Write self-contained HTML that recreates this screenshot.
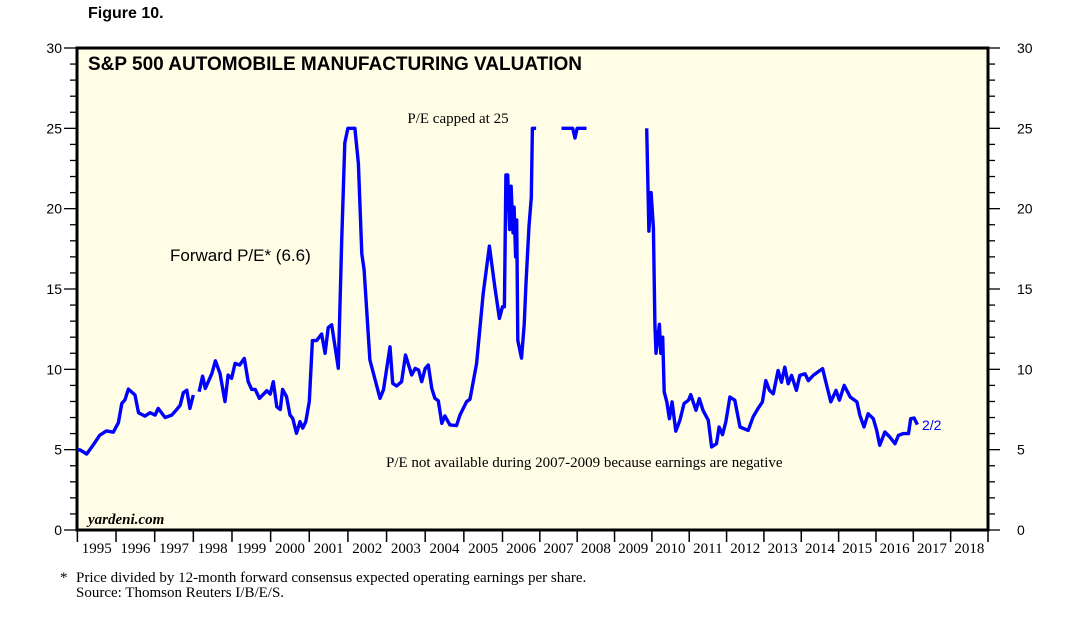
<!DOCTYPE html>
<html><head><meta charset="utf-8">
<style>
body{margin:0;background:#fff;}
svg{display:block;}
.serif{font-family:"Liberation Serif",serif;}
.sans{font-family:"Liberation Sans",sans-serif;}
</style></head>
<body>
<svg id="chart" width="1067" height="622" viewBox="0 0 1067 622" xmlns="http://www.w3.org/2000/svg">
<text x="88" y="18" class="sans" font-size="16" font-weight="bold">Figure 10.</text>
<rect x="77" y="48" width="911" height="482" fill="#fffde6" stroke="#000" stroke-width="3"/>
<g id="axes"></g>
<g id="series"></g>
<text x="88" y="70" class="sans" font-size="19" font-weight="bold">S&amp;P 500 AUTOMOBILE MANUFACTURING VALUATION</text>
<text x="458" y="123" class="serif" font-size="15" text-anchor="middle">P/E capped at 25</text>
<text x="170" y="261" class="sans" font-size="17">Forward P/E* (6.6)</text>
<text x="386" y="467" class="serif" font-size="15">P/E not available during 2007-2009 because earnings are negative</text>
<text x="88" y="524" class="serif" font-size="15" font-style="italic" font-weight="bold">yardeni.com</text>
<text x="922" y="430" class="sans" font-size="14" fill="#0000ff">2/2</text>
<text x="60" y="582" class="serif" font-size="15">*</text>
<text x="76" y="582" class="serif" font-size="15">Price divided by 12-month forward consensus expected operating earnings per share.</text>
<text x="76" y="597" class="serif" font-size="15">Source: Thomson Reuters I/B/E/S.</text>
</svg>
<script>
const yearLabels = ["1995","1996","1997","1998","1999","2000","2001","2002","2003","2004","2005","2006","2007","2008","2009","2010","2011","2012","2013","2014","2015","2016","2017","2018"];
const yTicks = [0,5,10,15,20,25,30];
const seg1T = [1995.0,1995.07,1995.24,1995.41,1995.58,1995.75,1995.93,1996.06,1996.15,1996.23,1996.32,1996.49,1996.58,1996.75,1996.88,1997.01,1997.09,1997.27,1997.44,1997.57,1997.66,1997.74,1997.83,1997.91,1998.0];
const seg1V = [5.0,4.98,4.73,5.29,5.9,6.17,6.09,6.68,7.88,8.09,8.77,8.4,7.3,7.09,7.3,7.15,7.57,7.0,7.15,7.5,7.77,8.54,8.7,7.57,8.4];
const seg2T = [1998.15,1998.24,1998.31,1998.48,1998.57,1998.69,1998.82,1998.9,1998.99,1999.08,1999.2,1999.32,1999.42,1999.51,1999.6,1999.71,1999.9,1999.99,2000.07,2000.16,2000.25,2000.31,2000.41,2000.5,2000.57,2000.67,2000.76,2000.83,2000.91,2001.0,2001.08,2001.19,2001.32,2001.41,2001.49,2001.58,2001.75,2001.84,2001.92,2002.0,2002.18,2002.27,2002.36,2002.42,2002.57,2002.83,2002.92,2003.09,2003.16,2003.26,2003.39,2003.49,2003.65,2003.74,2003.83,2003.91,2004.0,2004.08,2004.17,2004.25,2004.34,2004.43,2004.51,2004.64,2004.81,2004.9,2005.07,2005.16,2005.33,2005.5,2005.66,2005.8,2005.92,2006.0,2006.05,2006.09,2006.14,2006.19,2006.23,2006.28,2006.31,2006.35,2006.38,2006.41,2006.51,2006.58,2006.63,2006.71,2006.77,2006.8,2006.9];
const seg2V = [8.6,9.58,8.81,9.75,10.53,9.75,7.99,9.64,9.44,10.37,10.27,10.68,9.23,8.75,8.75,8.19,8.67,8.46,9.23,7.67,7.5,8.75,8.3,7.16,6.95,6.02,6.75,6.34,6.75,8.0,11.79,11.79,12.2,11.0,12.6,12.77,10.07,18.0,24.1,25,25,22.8,17.2,16.2,10.58,8.2,8.73,11.4,9.13,8.96,9.23,10.89,9.65,10.06,9.96,9.23,10.06,10.27,8.81,8.2,8.04,6.64,7.1,6.54,6.5,7.16,7.99,8.14,10.37,14.72,17.67,15.14,13.17,13.9,13.9,22.1,22.1,18.7,21.4,18.5,20.1,17.0,19.3,11.8,10.7,12.77,15.36,18.9,20.7,25,25];
const seg3T = [2007.58,2007.88,2007.94,2008.0,2008.25];
const seg3V = [25,25,24.4,25,25];
const seg4T = [2009.86,2009.92,2009.98,2010.04,2010.08,2010.11,2010.2,2010.24,2010.29,2010.33,2010.4,2010.47,2010.54,2010.64,2010.75,2010.86,2010.98,2011.04,2011.18,2011.27,2011.37,2011.51,2011.6,2011.73,2011.8,2011.89,2011.98,2012.09,2012.22,2012.36,2012.58,2012.71,2012.84,2012.96,2013.05,2013.15,2013.25,2013.38,2013.47,2013.56,2013.65,2013.74,2013.87,2013.96,2014.1,2014.19,2014.32,2014.5,2014.57,2014.66,2014.79,2014.93,2015.02,2015.15,2015.31,2015.49,2015.57,2015.68,2015.79,2015.93,2016.02,2016.1,2016.24,2016.37,2016.51,2016.6,2016.73,2016.87,2016.93,2017.02,2017.11];
const seg4V = [25,18.6,21.0,18.8,12.8,11.0,12.8,11.0,12.0,8.6,7.97,6.93,7.97,6.15,6.83,7.87,8.08,8.43,7.45,8.18,7.45,6.83,5.17,5.37,6.41,5.93,6.72,8.28,8.08,6.41,6.2,7.04,7.55,7.97,9.3,8.69,8.48,9.93,9.2,10.14,9.1,9.62,8.69,9.62,9.72,9.3,9.62,9.93,10.04,9.2,7.97,8.69,8.08,9.0,8.28,7.97,7.14,6.41,7.24,6.93,6.2,5.27,6.1,5.79,5.37,5.89,6.0,6.0,6.93,6.97,6.56];

const NS='http://www.w3.org/2000/svg';
function xs(t){
  if(t<=2006) return 77.4+(t-1995)*(502.5-77.4)/11;
  return 502.5+(t-2006)*(988-502.5)/13;
}
function ys(v){ return 530-v*(482/30); }
function mk(tag,attrs,parent){const e=document.createElementNS(NS,tag);for(const k in attrs)e.setAttribute(k,attrs[k]);parent.appendChild(e);return e;}
const axes=document.getElementById('axes');
for(let v=0;v<=30;v++){
  const major=v%5===0;
  const l=mk('line',{x1:major?64:70,x2:77,y1:ys(v),y2:ys(v),stroke:'#000','stroke-width':1.3},axes);
  
  
  const r=mk('line',{x1:988,x2:major?1000:995,y1:ys(v),y2:ys(v),stroke:'#000','stroke-width':1.3},axes);
  
  
}
yTicks.forEach(v=>{
  const a=mk('text',{x:62,y:ys(v)+5,'text-anchor':'end','font-size':14,'font-family':'Liberation Sans, sans-serif'},axes);
  a.textContent=v;
  
  
  const b=mk('text',{x:1017,y:ys(v)+5,'text-anchor':'start','font-size':14,'font-family':'Liberation Sans, sans-serif'},axes);
  b.textContent=v;
  
  
});
yearLabels.forEach((lab,i)=>{
  const y0=1995+i;
  const t=mk('line',{x1:xs(y0),x2:xs(y0),y1:530,y2:542,stroke:'#000','stroke-width':1.5},axes);
  
  
  const tx=mk('text',{x:(xs(y0)+xs(y0+1))/2,y:553,'text-anchor':'middle','font-size':15,'font-family':'Liberation Serif, serif'},axes);
  tx.textContent=lab;
  
  
});
const endTick=mk('line',{x1:xs(2019),x2:xs(2019),y1:530,y2:542,stroke:'#000','stroke-width':1.5},axes);


const ser=document.getElementById('series');
[[seg1T,seg1V],[seg2T,seg2V],[seg3T,seg3V],[seg4T,seg4V]].forEach(([T,V])=>{
  const d=T.map((t,i)=>(i?'L':'M')+xs(t).toFixed(1)+','+ys(V[i]).toFixed(1)).join(' ');
  const p=mk('path',{d:d,fill:'none',stroke:'#0000ff','stroke-width':3.4,'stroke-linejoin':'round'},ser);
  
  
});
</script>
</body></html>
